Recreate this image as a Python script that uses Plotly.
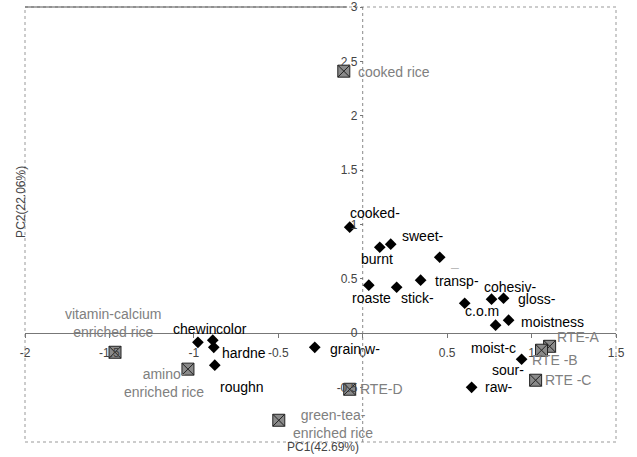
import plotly.graph_objects as go

# Attribute loadings (black diamonds)
attr_names = ["cooked-", "burnt", "sweet-", "–", "roaste", "stick-", "transp-", "c.o.m",
              "cohesiv-", "gloss-", "moistness", "moist-c", "grain w-", "sour-", "raw-",
              "chewin", "color", "hardne", "roughn"]
attr_pc1 = [-0.077, 0.101, 0.166, 0.456, 0.036, 0.201, 0.343, 0.604,
            0.763, 0.834, 0.864, 0.787, -0.284, 0.941, 0.645,
            -0.976, -0.888, -0.882, -0.876]
attr_pc2 = [0.975, 0.791, 0.819, 0.699, 0.442, 0.423, 0.488, 0.276,
            0.313, 0.322, 0.120, 0.074, -0.129, -0.239, -0.497,
            -0.083, -0.064, -0.129, -0.294]

# Sample scores (gray squares)
sample_names = ["cooked rice", "vitamin-calcium<br>enriched rice", "amino-<br>enriched rice",
                "green-tea-<br>enriched rice", "RTE-A", "RTE -B", "RTE -C", "RTE-D"]
sample_pc1 = [-0.112, -1.467, -1.035, -0.497, 1.107, 1.059, 1.024, -0.077]
sample_pc2 = [2.41, -0.175, -0.33, -0.80, -0.12, -0.156, -0.432, -0.515]

x_ticks = [-2, -1.5, -1, -0.5, 0, 0.5, 1, 1.5]
y_ticks = [-0.5, 0, 0.5, 1, 1.5, 2, 2.5, 3]
x_title = "PC1(42.69%)"
y_title = "PC2(22.06%)"

# label pixel offsets (style only)
attr_dx = [25, -3, 32, 15, 3, 21, 36, 17, 18, 33, 44, -2, 40, -14, 27, -3, 19, 30, 27]
attr_dy = [14, -12, 8, -10, -13, -11, -1, -8, 12, -1, -2, -23, -2, -11, 0, 13, 11, -6, -22]
samp_dx = [50, -2, -24, 54, 28, 13, 32, 32]
samp_dy = [-1, 29, -14, -4, 9, -10, 0, 0]

FONT = "Liberation Sans, Arial, sans-serif"

fig = go.Figure()
fig.add_trace(go.Scatter(x=attr_pc1, y=attr_pc2, mode="markers",
                         marker=dict(symbol="diamond", size=9, color="black"),
                         showlegend=False, hoverinfo="skip"))
fig.add_trace(go.Scatter(x=sample_pc1, y=sample_pc2, mode="markers",
                         marker=dict(symbol="square-x", size=12, color="#8a8a8a",
                                     line=dict(color="#222", width=1)),
                         showlegend=False, hoverinfo="skip"))

anns = []
for n, x, y, dx, dy in zip(attr_names, attr_pc1, attr_pc2, attr_dx, attr_dy):
    anns.append(dict(x=x, y=y, text=n, showarrow=False, xshift=dx, yshift=dy,
                     font=dict(family=FONT, size=14,
                               color="#bbb" if n == "–" else "black")))
for n, x, y, dx, dy in zip(sample_names, sample_pc1, sample_pc2, samp_dx, samp_dy):
    anns.append(dict(x=x, y=y, text=n, showarrow=False, xshift=dx, yshift=dy,
                     font=dict(family=FONT, size=14, color="#808080")))
anns.append(dict(xref="paper", yref="paper", x=0.504, y=-0.012, text=x_title,
                 showarrow=False, yanchor="middle",
                 font=dict(family=FONT, size=12, color="#444")))
anns.append(dict(xref="paper", yref="paper", x=-0.022, y=0.552, text=y_title,
                 showarrow=False, textangle=-90,
                 font=dict(family=FONT, size=12, color="#444")))

fig.update_layout(
    width=637, height=457,
    margin=dict(l=25, r=21, t=7, b=15, autoexpand=False),
    paper_bgcolor="white", plot_bgcolor="white",
    annotations=anns,
    xaxis=dict(range=[-2, 1.5], anchor="free", position=0.25, automargin=False,
               tickvals=x_ticks, ticktext=[str(v) for v in x_ticks],
               showgrid=False, zeroline=False, showline=True,
               linecolor="#777", linewidth=1, ticks="outside", ticklen=4,
               tickcolor="#777", ticklabelstandoff=4,
               tickfont=dict(family=FONT, size=12, color="#444")),
    yaxis=dict(range=[-1, 3], anchor="free", position=2 / 3.5, automargin=False,
               tickvals=y_ticks, ticktext=[str(v) for v in y_ticks],
               showgrid=False, zeroline=False, showline=False,
               ticks="outside", ticklen=3, tickcolor="#777",
               tickfont=dict(family=FONT, size=12, color="#444")),
    shapes=[
        dict(type="rect", xref="paper", yref="paper", x0=0, y0=0, x1=1, y1=1,
             line=dict(color="#999", width=1, dash="dot"), layer="below"),
        dict(type="line", xref="paper", yref="paper", x0=0, x1=0.545, y0=1, y1=1,
             line=dict(color="#555", width=1), layer="below"),
        dict(type="line", xref="x", yref="paper", x0=0, x1=0, y0=0, y1=1,
             line=dict(color="#888", width=1, dash="dot"), layer="below"),
    ],
)

fig.write_html("out.html", config={"displayModeBar": False},
               post_script="document.body.style.margin='0';document.body.style.overflow='hidden';")
